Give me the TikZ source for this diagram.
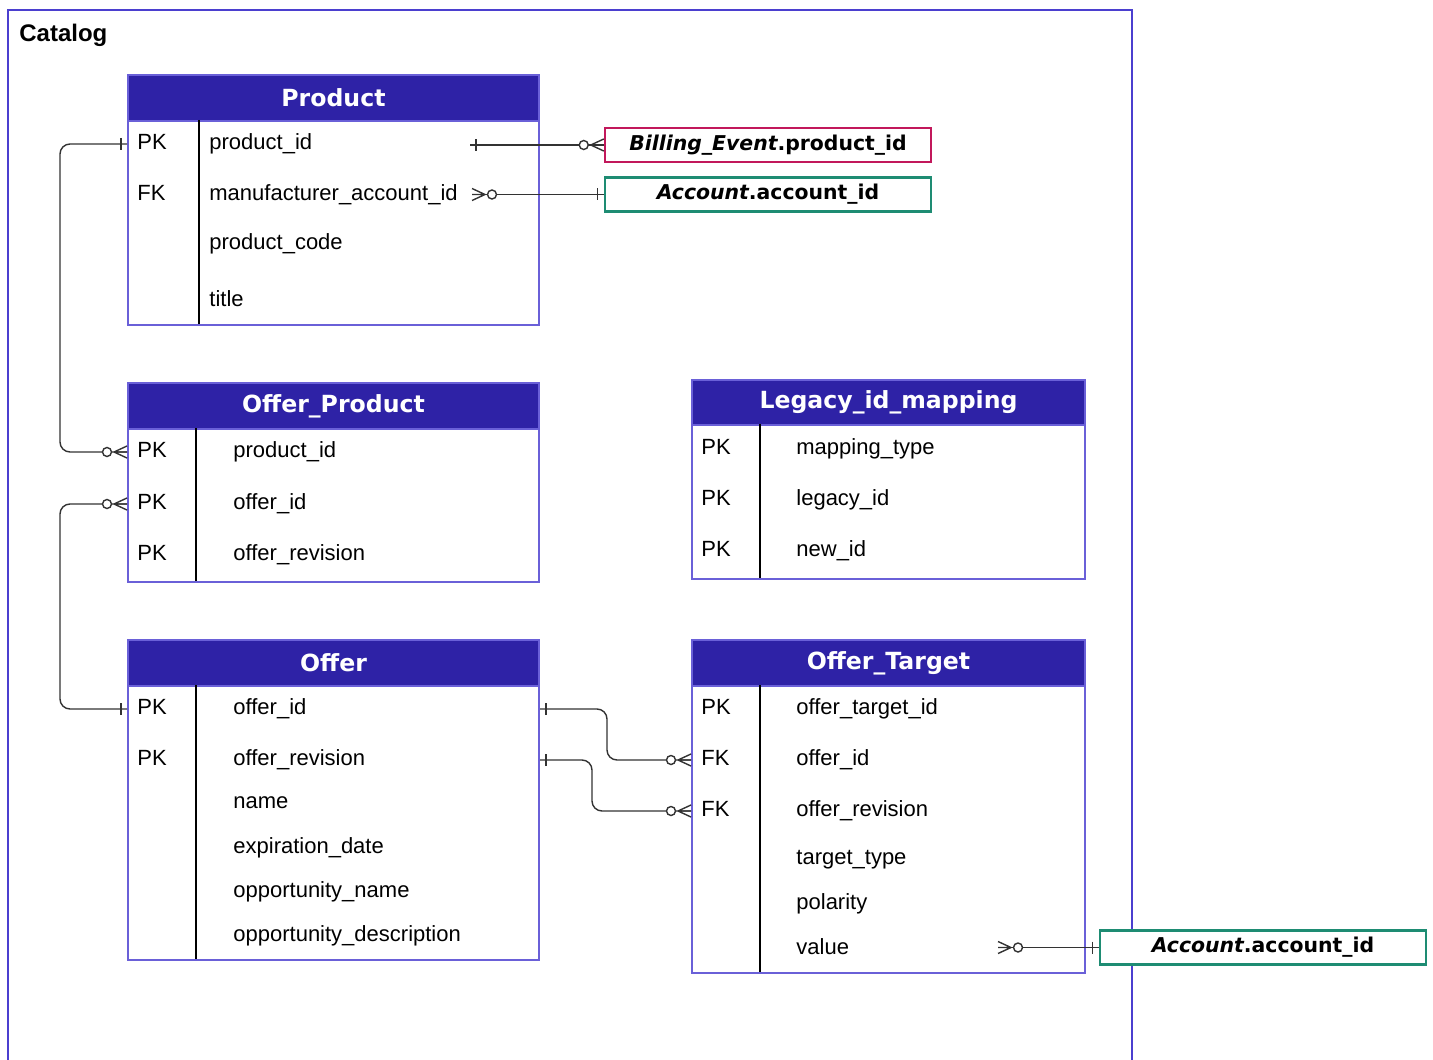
\documentclass[tikz,border=0pt]{standalone}
\usepackage{fontspec}
\setmainfont{Liberation Sans}
\newfontfamily\verdfamily{DejaVu Sans}
\usetikzlibrary{shapes}

\definecolor{hdblue}{HTML}{2E22A6}
\definecolor{tblline}{HTML}{6A60D8}
\definecolor{frameblue}{HTML}{4B3FCF}
\definecolor{billred}{HTML}{C2185B}
\definecolor{accgreen}{HTML}{1E8C73}

\tikzstyle{catframe} = [draw=frameblue, line width=1pt]
\tikzstyle{thead} = [rectangle, draw=tblline, fill=hdblue, text=white, line width=1pt,
    anchor=north west, inner sep=0pt, minimum height=23pt,
    font=\verdfamily\bfseries\fontsize{11.8}{14}\selectfont]
\tikzstyle{tbody} = [rectangle, draw=tblline, fill=white, line width=1pt,
    anchor=north west, inner sep=0pt]
\tikzstyle{wtab} = [minimum width=205.5pt]
\tikzstyle{ntab} = [minimum width=196.5pt]
\tikzstyle{fld} = [anchor=west, inner sep=0pt, text height=8pt, text depth=2.5pt,
    font=\fontsize{11}{13}\selectfont]
\tikzstyle{divider} = [draw=black, line width=0.6pt]
\tikzstyle{extref} = [rectangle, draw, line width=1.25pt, fill=white, minimum width=163pt,
    minimum height=17pt, inner sep=0pt, font=\verdfamily\bfseries\fontsize{10.2}{12}\selectfont]
\tikzstyle{conn} = [draw=black!80, line width=0.7pt]

\tikzset{
  one/.pic={\draw[conn] (-6,-6) -- (-6,6);},
  zmany/.pic={
    \draw[conn] (-13,0) -- (0,-6) (-13,0) -- (0,6) (-13,0) -- (0,0);
    \draw[conn, fill=white] (-20,0) circle [radius=2.25pt];
  }
}

\begin{document}
\begin{tikzpicture}[x=0.5pt, y=-0.5pt]
  \useasboundingbox (0,0) rectangle (1433,1059);
  \draw[catframe] (8,1080) -- (8,10) -- (1132,10) -- (1132,1080);
  \node[anchor=west, inner sep=0pt, font=\bfseries\fontsize{12}{14}\selectfont] (catalog) at (19,35) {Catalog};

  % Product
  \node[tbody, wtab, minimum height=102pt] (prodbody) at (127,120) {};
  \node[thead, wtab] (prod) at (127,74) {Product};
  \draw[divider] (199,120) -- (199,324);
  \node[fld] (prod-k1) at (137,144) {PK};
  \node[fld] (prod-r1) at (209,144) {product\_id};
  \node[fld] (prod-k2) at (137,195) {FK};
  \node[fld] (prod-r2) at (209,195) {manufacturer\_account\_id};
  \node[fld] (prod-r3) at (209,244) {product\_code};
  \node[fld] (prod-r4) at (209,301) {title};

  % Offer_Product
  \node[tbody, wtab, minimum height=76.5pt] (opbody) at (127,428) {};
  \node[thead, wtab] (op) at (127,382) {Offer\_Product};
  \draw[divider] (196,428) -- (196,581);
  \node[fld] (op-k1) at (137,452) {PK};
  \node[fld] (op-r1) at (233,452) {product\_id};
  \node[fld] (op-k2) at (137,504) {PK};
  \node[fld] (op-r2) at (233,504) {offer\_id};
  \node[fld] (op-k3) at (137,555) {PK};
  \node[fld] (op-r3) at (233,555) {offer\_revision};

  % Legacy_id_mapping
  \node[tbody, ntab, minimum height=77pt] (legbody) at (691,424) {};
  \node[thead, ntab, minimum height=22.5pt] (leg) at (691,379) {Legacy\_id\_mapping};
  \draw[divider] (760,424) -- (760,578);
  \node[fld] (leg-k1) at (701,449) {PK};
  \node[fld] (leg-r1) at (796,449) {mapping\_type};
  \node[fld] (leg-k2) at (701,500) {PK};
  \node[fld] (leg-r2) at (796,500) {legacy\_id};
  \node[fld] (leg-k3) at (701,551) {PK};
  \node[fld] (leg-r3) at (796,551) {new\_id};

  % Offer
  \node[tbody, wtab, minimum height=137pt] (offbody) at (127,685) {};
  \node[thead, wtab] (off) at (127,639) {Offer};
  \draw[divider] (196,685) -- (196,959);
  \node[fld] (off-k1) at (137,709) {PK};
  \node[fld] (off-r1) at (233,709) {offer\_id};
  \node[fld] (off-k2) at (137,760) {PK};
  \node[fld] (off-r2) at (233,760) {offer\_revision};
  \node[fld] (off-r3) at (233,803) {name};
  \node[fld] (off-r4) at (233,848) {expiration\_date};
  \node[fld] (off-r5) at (233,892) {opportunity\_name};
  \node[fld] (off-r6) at (233,936) {opportunity\_description};

  % Offer_Target
  \node[tbody, ntab, minimum height=143.5pt] (otbody) at (691,685) {};
  \node[thead, ntab] (ot) at (691,639) {Offer\_Target};
  \draw[divider] (760,685) -- (760,972);
  \node[fld] (ot-k1) at (701,709) {PK};
  \node[fld] (ot-r1) at (796,709) {offer\_target\_id};
  \node[fld] (ot-k2) at (701,760) {FK};
  \node[fld] (ot-r2) at (796,760) {offer\_id};
  \node[fld] (ot-k3) at (701,811) {FK};
  \node[fld] (ot-r3) at (796,811) {offer\_revision};
  \node[fld] (ot-r4) at (796,859) {target\_type};
  \node[fld] (ot-r5) at (796,904) {polarity};
  \node[fld] (ot-r6) at (796,949) {value};

  % References to other areas
  \node[extref, draw=billred] (billing) at (768,145) {\textit{Billing\_Event}.product\_id};
  \node[extref, draw=accgreen] (acct1) at (768,194.5) {\textit{Account}.account\_id};
  \node[extref, draw=accgreen] (acct2) at (1263,947.5) {\textit{Account}.account\_id};
  \coordinate (prod-pid) at (470,145);
  \coordinate (prod-mfr) at (472,194.5);
  \coordinate (ot-val) at (998,947.5);

  % Relations
  \draw[conn, rounded corners=5pt] (prod-k1 -| prodbody.west) -- ++(-67,0) |- (op-k1 -| opbody.west);
  \pic at (prod-k1 -| prodbody.west) {one};
  \pic at (op-k1 -| opbody.west) {zmany};

  \draw[conn, rounded corners=5pt] (off-k1 -| offbody.west) -- ++(-67,0) |- (op-k2 -| opbody.west);
  \pic at (off-k1 -| offbody.west) {one};
  \pic at (op-k2 -| opbody.west) {zmany};

  \draw[conn, rounded corners=5pt] (off-k1 -| offbody.east) -- ++(67,0) |- (ot-k2 -| otbody.west);
  \pic[rotate=180] at (off-k1 -| offbody.east) {one};
  \pic at (ot-k2 -| otbody.west) {zmany};

  \draw[conn, rounded corners=5pt] (off-k2 -| offbody.east) -- ++(52,0) |- (ot-k3 -| otbody.west);
  \pic[rotate=180] at (off-k2 -| offbody.east) {one};
  \pic at (ot-k3 -| otbody.west) {zmany};

  \draw[conn] (prod-pid) -- (billing.west);
  \pic[rotate=180] at (prod-pid) {one};
  \pic at (billing.west) {zmany};

  \draw[conn] (prod-mfr) -- (acct1.west);
  \pic[rotate=180] at (prod-mfr) {zmany};
  \pic at (acct1.west) {one};

  \draw[conn] (ot-val) -- (acct2.west);
  \pic[rotate=180] at (ot-val) {zmany};
  \pic at (acct2.west) {one};
\end{tikzpicture}
\end{document}
